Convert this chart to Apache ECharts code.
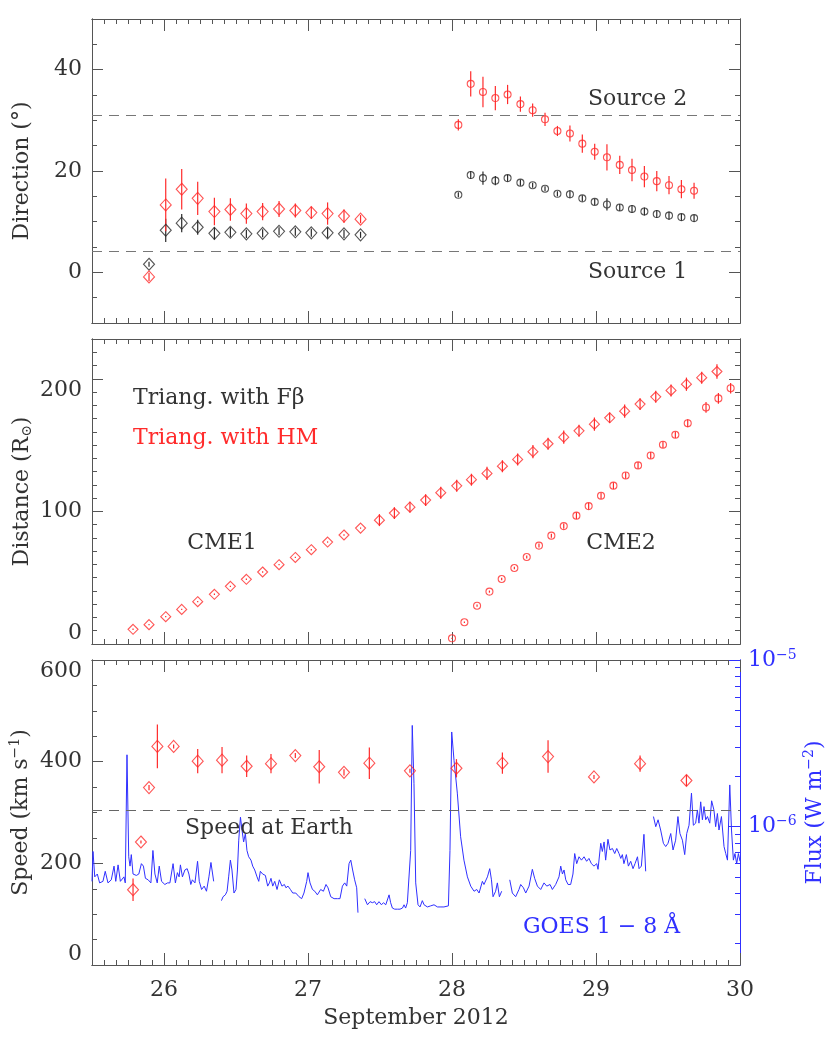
<!DOCTYPE html>
<html>
<head>
<meta charset="utf-8">
<script src="https://cdn.jsdelivr.net/npm/echarts@6/dist/echarts.min.js"></script>
<style>
  html, body { margin: 0; padding: 0; background: #fff; }
  #chart { width: 830px; height: 1038px; }
</style>
</head>
<body>
<div id="chart"></div>
<script>
// ---- data (time in days of September 2012) ----
const dayTicks = [26, 27, 28, 29, 30];

// panel 1: direction (deg)
const dirTime1 = [25.896, 26.012, 26.123, 26.234, 26.350, 26.461, 26.572, 26.685, 26.799, 26.912, 27.023, 27.136, 27.250, 27.365];
const dirFb1 = [1.6, 8.3, 9.7, 8.9, 7.7, 7.9, 7.6, 7.7, 8.1, 8.0, 7.8, 7.8, 7.6, 7.4];
const dirFb1Err = [0.5, 2.3, 1.8, 1.5, 1.2, 1.0, 0.8, 0.8, 0.8, 0.8, 0.8, 1.0, 0.8, 0.6];
const dirHm1 = [-0.9, 13.3, 16.4, 14.6, 12.0, 12.4, 11.6, 12.0, 12.5, 12.2, 11.8, 11.6, 11.1, 10.5];
const dirHm1Err = [0.8, 5.2, 4.0, 3.3, 2.7, 2.2, 2.0, 1.7, 1.6, 1.4, 1.2, 2.2, 1.3, 0.8];

const dirTime2 = [28.044, 28.130, 28.215, 28.301, 28.386, 28.475, 28.560, 28.646, 28.732, 28.819, 28.905, 28.991, 29.076, 29.165, 29.250, 29.336, 29.422, 29.507, 29.593, 29.681];
const dirFb2 = [15.3, 19.2, 18.6, 18.1, 18.6, 17.7, 17.2, 16.5, 15.5, 15.4, 14.6, 13.9, 13.4, 12.8, 12.5, 12.0, 11.5, 11.2, 10.9, 10.7];
const dirFb2Err = [0.5, 0.8, 1.3, 0.9, 0.7, 0.6, 0.5, 0.5, 0.5, 0.8, 0.6, 0.6, 1.2, 0.7, 0.8, 0.8, 0.8, 0.8, 0.7, 0.7];
const dirHm2 = [29.1, 37.2, 35.6, 34.4, 35.1, 33.2, 32.0, 30.2, 27.9, 27.4, 25.4, 23.8, 22.7, 21.2, 20.2, 18.9, 18.0, 17.2, 16.4, 16.1];
const dirHm2Err = [1.1, 2.5, 3.0, 2.4, 1.9, 1.5, 1.3, 1.3, 1.0, 1.6, 1.8, 1.6, 2.6, 1.8, 2.2, 2.1, 2.0, 1.8, 1.8, 1.6];
const source2Dir = 31.0;
const source1Dir = 4.1;

// panel 2: distance (solar radii)
const distTime1 = [25.785, 25.896, 26.012, 26.123, 26.234, 26.350, 26.461, 26.572, 26.685, 26.799, 26.912, 27.023, 27.136, 27.250, 27.365, 27.496, 27.600, 27.708, 27.817, 27.922, 28.033, 28.135, 28.243, 28.350, 28.456, 28.562, 28.667, 28.776, 28.882, 28.989, 29.095, 29.199, 29.306, 29.415, 29.521, 29.628, 29.734, 29.840];
const dist1 = [11.1, 14.6, 20.6, 26.1, 31.9, 37.5, 43.5, 48.8, 54.3, 59.8, 65.3, 71.1, 76.9, 82.2, 87.4, 93.4, 98.7, 103.2, 108.5, 114.1, 119.3, 123.9, 128.6, 134.1, 139.2, 145.0, 151.0, 156.0, 160.8, 165.8, 170.6, 175.6, 180.9, 186.4, 191.2, 195.9, 200.8, 205.5];
const dist1Err = [0.5, 0.5, 0.5, 0.5, 0.5, 0.5, 0.5, 0.5, 0.5, 0.5, 0.5, 0.5, 0.5, 0.5, 0.5, 4.5, 4.5, 4.0, 4.5, 4.5, 4.5, 4.5, 5.0, 4.5, 4.5, 5.0, 4.5, 5.0, 4.5, 5.0, 4.0, 5.0, 4.5, 4.5, 4.5, 5.0, 4.5, 5.5];

const distTime2 = [28.000, 28.086, 28.174, 28.260, 28.345, 28.433, 28.519, 28.604, 28.690, 28.776, 28.864, 28.949, 29.035, 29.121, 29.206, 29.292, 29.380, 29.465, 29.551, 29.637, 29.764, 29.850, 29.935];
const dist2 = [4.3, 16.4, 28.9, 39.5, 49.0, 57.3, 65.6, 74.2, 81.7, 88.9, 96.8, 104.0, 111.8, 119.4, 127.1, 134.7, 142.2, 150.3, 157.8, 166.5, 178.4, 185.2, 192.9];
const dist2Err = [0.5, 0.5, 0.8, 0.8, 1.0, 1.0, 1.2, 1.5, 1.5, 2.0, 2.5, 2.5, 2.5, 2.5, 2.5, 2.5, 2.5, 2.5, 2.5, 3.0, 4.0, 4.0, 4.0];

// panel 3: speed (km/s) and GOES 1-8 A flux (W m^-2)
const speedTime = [25.785, 25.840, 25.896, 25.954, 26.067, 26.234, 26.403, 26.574, 26.743, 26.912, 27.078, 27.250, 27.426, 27.708, 28.031, 28.350, 28.667, 28.986, 29.306, 29.628];
const speed = [148, 242, 349, 430, 430, 401, 403, 391, 396, 412, 390, 379, 397, 382, 387, 397, 410, 370, 396, 363];
const speedErr = [22, 3, 5, 43, 4, 24, 26, 21, 19, 5, 33, 6, 31, 4, 18, 21, 32, 4, 16, 11];
const speedAtEarth = 305;

const goesSeg1 = [[25.500,4.7e-7],[25.507,7.1e-7],[25.519,5.0e-7],[25.537,5.2e-7],[25.553,4.6e-7],[25.576,4.7e-7],[25.592,5.4e-7],[25.611,4.6e-7],[25.634,4.8e-7],[25.653,5.8e-7],[25.665,4.7e-7],[25.681,5.9e-7],[25.697,4.7e-7],[25.710,4.6e-7],[25.722,5.0e-7],[25.731,4.6e-7],[25.743,2.7e-6],[25.755,6.6e-7],[25.764,5.8e-7],[25.773,6.8e-7],[25.785,5.2e-7],[25.808,5.1e-7],[25.825,5.2e-7],[25.843,6.0e-7],[25.857,5.8e-7],[25.871,4.9e-7],[25.890,4.8e-7],[25.909,4.6e-7],[25.923,7.2e-7],[25.937,5.2e-7],[25.953,4.6e-7],[25.967,5.8e-7],[25.983,4.7e-7],[26.006,4.5e-7],[26.024,4.6e-7],[26.041,4.6e-7],[26.063,6.0e-7],[26.079,4.6e-7],[26.093,5.3e-7],[26.105,5.0e-7],[26.114,5.9e-7],[26.128,5.0e-7],[26.145,5.5e-7],[26.161,5.6e-7],[26.173,5.2e-7],[26.186,4.5e-7],[26.197,4.8e-7],[26.215,4.6e-7],[26.233,6.2e-7],[26.245,4.7e-7],[26.261,4.2e-7],[26.279,4.4e-7],[26.295,4.1e-7],[26.312,5.0e-7],[26.326,6.1e-7],[26.345,4.7e-7]];
const goesSeg2 = [[26.399,3.6e-7],[26.410,3.8e-7],[26.426,3.9e-7],[26.438,4.1e-7],[26.449,5.0e-7],[26.461,6.3e-7],[26.472,5.5e-7],[26.486,4.0e-7],[26.500,4.2e-7],[26.510,5.5e-7],[26.519,8.3e-7],[26.531,1.14e-6],[26.542,9.5e-7],[26.553,8.1e-7],[26.565,9.1e-7],[26.576,7.2e-7],[26.588,6.6e-7],[26.604,6.3e-7],[26.616,5.8e-7],[26.630,5.5e-7],[26.646,5.0e-7],[26.658,4.7e-7],[26.669,5.4e-7],[26.685,5.2e-7],[26.704,5.1e-7],[26.720,4.4e-7],[26.732,4.6e-7],[26.743,4.9e-7],[26.755,4.4e-7],[26.769,4.7e-7],[26.785,4.2e-7],[26.801,4.8e-7],[26.819,4.4e-7],[26.836,4.5e-7],[26.847,4.3e-7],[26.861,4.4e-7],[26.878,4.2e-7],[26.894,4.0e-7],[26.915,4.0e-7],[26.938,3.8e-7],[26.956,3.7e-7],[26.972,4.0e-7],[26.991,4.7e-7],[27.000,5.3e-7],[27.014,4.6e-7],[27.031,4.2e-7],[27.047,4.1e-7],[27.065,3.9e-7],[27.088,4.2e-7],[27.107,4.1e-7],[27.125,4.5e-7],[27.139,4.3e-7],[27.158,3.8e-7],[27.181,3.7e-7],[27.204,3.7e-7],[27.222,3.7e-7],[27.239,4.4e-7],[27.255,4.6e-7],[27.269,4.4e-7],[27.285,6.0e-7],[27.297,6.3e-7],[27.310,5.5e-7],[27.324,4.8e-7],[27.338,4.3e-7],[27.347,3.05e-7]];
const goesSeg3 = [[27.394,3.7e-7],[27.413,3.4e-7],[27.431,3.55e-7],[27.447,3.5e-7],[27.463,3.55e-7],[27.477,3.4e-7],[27.493,3.55e-7],[27.510,3.4e-7],[27.524,3.5e-7],[27.540,3.4e-7],[27.563,3.9e-7],[27.574,3.5e-7],[27.586,3.25e-7],[27.602,3.2e-7],[27.621,3.2e-7],[27.639,3.2e-7],[27.656,3.25e-7],[27.667,3.4e-7],[27.678,3.25e-7],[27.690,3.5e-7],[27.701,3.5e-7],[27.713,7.2e-7],[27.724,4.05e-6],[27.736,1.82e-6],[27.748,4.6e-7],[27.764,3.4e-7],[27.778,3.3e-7],[27.794,3.6e-7],[27.806,3.4e-7],[27.829,3.3e-7],[27.852,3.35e-7],[27.875,3.4e-7],[27.899,3.3e-7],[27.917,3.3e-7],[27.944,3.3e-7],[27.975,3.35e-7],[27.986,7.2e-7],[27.998,3.7e-6],[28.014,2.5e-6],[28.037,1.59e-6],[28.060,8.7e-7],[28.083,6.3e-7],[28.107,5.0e-7],[28.130,4.4e-7],[28.153,4.1e-7],[28.172,4.2e-7],[28.188,4.0e-7],[28.211,4.7e-7],[28.222,4.5e-7],[28.246,5.0e-7],[28.262,5.6e-7],[28.274,4.8e-7],[28.285,3.8e-7],[28.303,4.1e-7],[28.315,4.6e-7],[28.329,3.8e-7],[28.345,4.1e-7]];
const goesSeg4 = [[28.401,4.8e-7],[28.419,4.0e-7],[28.442,3.8e-7],[28.465,4.2e-7],[28.477,4.5e-7],[28.496,4.3e-7],[28.512,4.0e-7],[28.535,4.4e-7],[28.558,5.55e-7],[28.574,4.9e-7],[28.593,4.4e-7],[28.616,4.2e-7],[28.639,4.6e-7],[28.658,4.4e-7],[28.681,4.5e-7],[28.697,4.2e-7],[28.720,4.5e-7],[28.743,5.0e-7],[28.755,5.8e-7],[28.767,5.2e-7],[28.778,5.5e-7],[28.790,4.8e-7],[28.806,4.5e-7],[28.824,4.5e-7],[28.840,5.2e-7],[28.852,6.9e-7],[28.866,6.0e-7],[28.882,6.6e-7],[28.899,6.3e-7],[28.917,6.6e-7],[28.935,6.2e-7],[28.951,6.45e-7],[28.968,6.0e-7],[28.986,5.8e-7],[29.005,6.0e-7],[29.014,5.55e-7],[29.033,7.95e-7],[29.044,7.1e-7],[29.056,8.1e-7],[29.067,6.3e-7],[29.083,8.4e-7],[29.097,7.25e-7],[29.114,7.4e-7],[29.130,6.9e-7],[29.144,7.4e-7],[29.160,6.9e-7],[29.172,6.45e-7],[29.183,6.8e-7],[29.194,6.0e-7],[29.211,6.8e-7],[29.225,5.8e-7],[29.241,6.2e-7],[29.257,5.6e-7],[29.271,6.0e-7],[29.288,6.6e-7],[29.299,5.6e-7],[29.315,5.8e-7],[29.333,9.0e-7],[29.345,5.4e-7]];
const goesSeg5 = [[29.399,1.15e-6],[29.415,1.0e-6],[29.431,1.1e-6],[29.449,9.55e-7],[29.468,7.95e-7],[29.484,7.6e-7],[29.500,7.95e-7],[29.519,9.1e-7],[29.535,7.25e-7],[29.553,8.3e-7],[29.569,1.15e-6],[29.583,9.1e-7],[29.600,8.3e-7],[29.616,6.8e-7],[29.630,9.1e-7],[29.646,1.02e-6],[29.663,1.59e-6],[29.676,1.02e-6],[29.692,1.05e-6],[29.704,1.26e-6],[29.715,1.05e-6],[29.727,1.41e-6],[29.739,1.1e-6],[29.750,1.32e-6],[29.762,1.1e-6],[29.774,1.15e-6],[29.790,1.05e-6],[29.803,1.43e-6],[29.819,1.26e-6],[29.831,1.0e-6],[29.843,1.2e-6],[29.854,9.55e-7],[29.871,1.15e-6],[29.889,7.6e-7],[29.901,6.9e-7],[29.913,6.3e-7],[29.929,1.78e-6],[29.941,9.55e-7],[29.954,6.3e-7],[29.965,6.9e-7],[29.977,6.0e-7],[29.989,6.9e-7],[30.000,6.2e-7]];

// ---- styling ----
const FONT = 'DejaVu Serif';
const TXT = '#333';
const AX = '#555';
const RED = '#ff2b2b';
const BLK = '#2a2a2a';
const BLUE = '#3030ff';
const XMIN = 25.5, XMAX = 30;

function steps(a, b, s) {
  const out = [];
  for (let k = 0; a + k * s <= b + 1e-9; k++) out.push(+(a + k * s).toFixed(5));
  return out;
}
const hourTicks = steps(XMIN, XMAX, 1 / 12);

function xAx(gi, pos, ticks, len, labels) {
  const ax = {
    type: 'value', gridIndex: gi, position: pos, min: XMIN, max: XMAX,
    axisLine: { show: true, onZero: false, lineStyle: { color: AX, width: 1 } },
    axisTick: { show: true, inside: true, length: len, customValues: ticks, lineStyle: { color: AX, width: 1 } },
    axisLabel: { show: false },
    splitLine: { show: false }
  };
  if (labels) {
    ax.axisLabel = { show: true, customValues: dayTicks, margin: 14, color: TXT, fontFamily: FONT, fontSize: 22 };
    ax.name = 'September 2012';
    ax.nameLocation = 'middle';
    ax.nameGap = 42;
    ax.nameMoveOverlap = false;
    ax.nameTextStyle = { color: TXT, fontFamily: FONT, fontSize: 22 };
  }
  return ax;
}

function yAx(gi, pos, min, max, ticks, len, opts) {
  const o = opts || {};
  const col = o.color || AX;
  const ax = {
    type: o.type || 'value', gridIndex: gi, position: pos, min: min, max: max,
    axisLine: { show: true, onZero: false, lineStyle: { color: col, width: 1 } },
    axisTick: { show: true, inside: true, length: len, customValues: ticks, lineStyle: { color: col, width: 1 } },
    axisLabel: { show: false },
    splitLine: { show: false }
  };
  if (o.type === 'log') ax.logBase = 10;
  if (o.labels) {
    ax.axisLabel = {
      show: true, customValues: o.labels, margin: o.margin || 10,
      color: o.labelColor || TXT, fontFamily: FONT, fontSize: 22,
      formatter: o.formatter,
      rich: { s: { fontSize: 14, fontFamily: FONT, color: o.labelColor || TXT, verticalAlign: 'top', padding: [0, 0, 10, 0] } }
    };
    if (o.edgeAlign) {
      ax.axisLabel.verticalAlignMinLabel = 'bottom';
      ax.axisLabel.verticalAlignMaxLabel = 'top';
    }
  }
  if (o.name) {
    ax.name = o.name;
    ax.nameLocation = 'middle';
    ax.nameGap = o.nameGap;
    ax.nameRotate = 90;
    ax.nameMoveOverlap = false;
    ax.nameTextStyle = {
      color: o.labelColor || TXT, fontFamily: FONT, fontSize: 22,
      rich: {
        sup: { fontSize: 14, fontFamily: FONT, color: o.labelColor || TXT, verticalAlign: 'top', padding: [0, 0, 12, 0] },
        sub: { fontSize: 14, fontFamily: FONT, color: o.labelColor || TXT, verticalAlign: 'bottom', padding: [10, 0, 0, 0] }
      }
    };
  }
  return ax;
}

const grids = [
  { left: 92, width: 648, top: 19, height: 304, outerBoundsMode: 'none', containLabel: false },
  { left: 92, width: 648, top: 339, height: 305, outerBoundsMode: 'none', containLabel: false },
  { left: 92, width: 648, top: 660, height: 305, outerBoundsMode: 'none', containLabel: false }
];

const xAxes = [];
for (let gi = 0; gi < 3; gi++) {
  xAxes.push(xAx(gi, 'bottom', dayTicks, 12, gi === 2));
  xAxes.push(xAx(gi, 'bottom', hourTicks, 5, false));
  xAxes.push(xAx(gi, 'top', dayTicks, 12, false));
  xAxes.push(xAx(gi, 'top', hourTicks, 5, false));
}

const fluxMinor = [2e-7, 3e-7, 4e-7, 5e-7, 6e-7, 7e-7, 8e-7, 9e-7, 2e-6, 3e-6, 4e-6, 5e-6, 6e-6, 7e-6, 8e-6, 9e-6];
const yAxes = [
  yAx(0, 'left', -10, 50, [0, 20, 40], 11, { labels: [0, 20, 40], name: 'Direction (°)', nameGap: 59 }),
  yAx(0, 'left', -10, 50, steps(-10, 50, 5), 5),
  yAx(0, 'right', -10, 50, [0, 20, 40], 11),
  yAx(0, 'right', -10, 50, steps(-10, 50, 5), 5),
  yAx(1, 'left', 0, 230, [0, 100, 200], 11, { labels: [0, 100, 200], name: 'Distance (R{sub|⊙})', nameGap: 58, edgeAlign: true }),
  yAx(1, 'left', 0, 230, steps(0, 230, 10), 5),
  yAx(1, 'right', 0, 230, [0, 100, 200], 11),
  yAx(1, 'right', 0, 230, steps(0, 230, 10), 5),
  yAx(2, 'left', 0, 600, [0, 200, 400, 600], 11, { labels: [0, 200, 400, 600], name: 'Speed (km s{sup|−1})', nameGap: 58, edgeAlign: true }),
  yAx(2, 'left', 0, 600, steps(0, 600, 50), 5),
  yAx(2, 'right', 1.48e-7, 1e-5, [1e-6, 1e-5], 11, {
    type: 'log', color: BLUE, labelColor: BLUE, labels: [1e-6, 1e-5], margin: 8,
    formatter: v => '10{s|' + (Math.round(Math.log10(v)) === -5 ? '−5' : '−6') + '}',
    name: 'Flux (W m{sup|−2})', nameGap: 62
  }),
  yAx(2, 'right', 1.48e-7, 1e-5, fluxMinor, 5, { type: 'log', color: BLUE })
];

function pts(xs, ys) { return xs.map((t, i) => [t, ys[i]]); }

function marks(xs, ys, gi, yi, sym, size, color, extra) {
  return Object.assign({
    type: 'scatter', xAxisIndex: gi * 4, yAxisIndex: yi,
    data: pts(xs, ys), symbol: sym, symbolSize: size,
    itemStyle: { color: 'rgba(0,0,0,0)', borderColor: color, borderWidth: 1.1 },
    z: 4, silent: true
  }, extra || {});
}

function bars(xs, ys, es, gi, yi, color) {
  return {
    type: 'custom', xAxisIndex: gi * 4, yAxisIndex: yi, silent: true, z: 3,
    data: xs.map((t, i) => [t, ys[i] - es[i], ys[i] + es[i]]),
    renderItem: function (params, api) {
      const a = api.coord([api.value(0), api.value(1)]);
      const b = api.coord([api.value(0), api.value(2)]);
      return { type: 'line', shape: { x1: a[0], y1: a[1], x2: b[0], y2: b[1] }, style: { stroke: color, lineWidth: 1.2 } };
    }
  };
}

function dashLines(vals, color) {
  return {
    silent: true, symbol: 'none', label: { show: false },
    lineStyle: { color: color, type: [10, 7], width: 1.2 },
    data: vals.map(v => ({ yAxis: v }))
  };
}

const goesData = [].concat(goesSeg1, [[26.37, '-']], goesSeg2, [[27.37, '-']], goesSeg3, [[28.37, '-']], goesSeg4, [[29.37, '-']], goesSeg5);

const series = [
  // direction
  bars(dirTime1, dirFb1, dirFb1Err, 0, 0, BLK),
  bars(dirTime1, dirHm1, dirHm1Err, 0, 0, RED),
  bars(dirTime2, dirFb2, dirFb2Err, 0, 0, BLK),
  bars(dirTime2, dirHm2, dirHm2Err, 0, 0, RED),
  marks(dirTime1, dirFb1, 0, 0, 'diamond', [11, 12], BLK, { markLine: dashLines([source2Dir, source1Dir], '#777') }),
  marks(dirTime1, dirHm1, 0, 0, 'diamond', [11, 12], RED),
  marks(dirTime2, dirFb2, 0, 0, 'circle', 7, BLK),
  marks(dirTime2, dirHm2, 0, 0, 'circle', 7, RED),
  // distance
  bars(distTime1, dist1, dist1Err, 1, 4, RED),
  bars(distTime2, dist2, dist2Err, 1, 4, RED),
  marks(distTime1, dist1, 1, 4, 'diamond', [10, 10], RED),
  marks(distTime2, dist2, 1, 4, 'circle', 7, RED),
  // GOES flux
  {
    type: 'line', xAxisIndex: 8, yAxisIndex: 10, data: goesData,
    symbol: 'none', showSymbol: false, connectNulls: false, silent: true, z: 2,
    lineStyle: { color: BLUE, width: 1 }
  },
  // speed
  bars(speedTime, speed, speedErr, 2, 8, RED),
  marks(speedTime, speed, 2, 8, 'diamond', [11, 12], RED, { markLine: dashLines([speedAtEarth], '#666') })
];

const textFont = '22px "DejaVu Serif"';
function label(text, x, y, color, align) {
  return { type: 'text', x: x, y: y, silent: true, z: 10,
    style: { text: text, font: textFont, fill: color, align: align || 'left', verticalAlign: 'middle' } };
}

const chart = echarts.init(document.getElementById('chart'), null, { renderer: 'canvas' });
chart.setOption({
  animation: false,
  backgroundColor: '#fff',
  grid: grids,
  xAxis: xAxes,
  yAxis: yAxes,
  series: series,
  graphic: [
    label('Source 2', 588, 99, TXT),
    label('Source 1', 588, 272, TXT),
    label('Triang. with Fβ', 133, 398, TXT),
    label('Triang. with HM', 133, 438, RED),
    label('CME1', 222, 543, TXT, 'center'),
    label('CME2', 621, 543, TXT, 'center'),
    label('Speed at Earth', 185, 828, TXT),
    label('GOES 1 − 8 Å', 523, 927, BLUE)
  ]
});
window.addEventListener('resize', chart.resize);
</script>
</body>
</html>
